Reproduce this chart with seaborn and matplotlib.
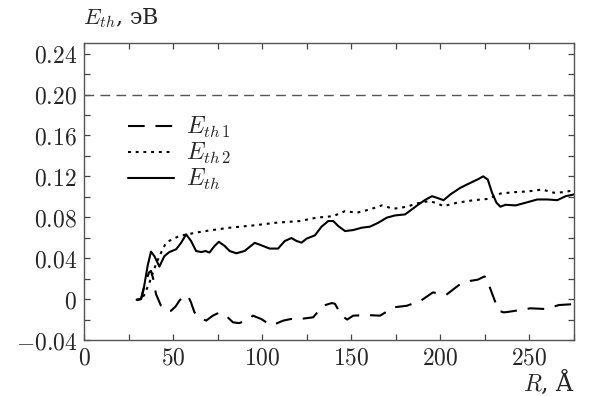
import numpy as np
import pandas as pd
import matplotlib
matplotlib.use("Agg")
import matplotlib.pyplot as plt
import seaborn as sns
from matplotlib.ticker import MultipleLocator, FuncFormatter

# ---- data ----
x_eth = [29.5, 32, 33.8, 35.7, 37.6, 39.5, 42.3, 45.1, 47.9, 51.7, 54.5, 57.3, 60.1, 62.9,
         65.8, 68.2, 70.4, 73.3, 75.7, 78.9, 81.7, 85.5, 90.1, 95.8, 99.5, 104.2, 108.9,
         112.7, 116.4, 119.3, 122.1, 124.9, 129.6, 133.3, 137.1, 139.9, 142.7, 146.5,
         151.1, 155.9, 160.5, 165.2, 169.9, 174.6, 180.2, 184, 187.7, 191.5, 195.3, 198.1,
         201.8, 205.6, 211.2, 216.8, 221.5, 224, 226.6, 229, 231.5, 233.7, 236.5, 242.2,
         247.8, 254.4, 260, 265.6, 270.3, 275]
y_eth = [-0.0007, 0.0, 0.013, 0.0325, 0.0464, 0.042, 0.0318, 0.042, 0.046, 0.0487, 0.055,
         0.0633, 0.0568, 0.047, 0.046, 0.047, 0.0455, 0.052, 0.056, 0.052, 0.047, 0.0448,
         0.047, 0.055, 0.0526, 0.0494, 0.0494, 0.0568, 0.0597, 0.0568, 0.0552, 0.0591,
         0.0623, 0.0708, 0.0763, 0.0763, 0.0714, 0.0665, 0.0675, 0.0698, 0.0708, 0.0747,
         0.0796, 0.0818, 0.0828, 0.0877, 0.0925, 0.097, 0.1006, 0.099, 0.0967, 0.1023,
         0.1088, 0.1136, 0.1175, 0.120, 0.1169, 0.104, 0.0942, 0.0903, 0.0922, 0.0916,
         0.0942, 0.0974, 0.0974, 0.0967, 0.1006, 0.1023]

x_eth2 = [29.5, 32, 33.8, 36.7, 39.5, 42.3, 46, 49, 53.5, 62.9, 70, 81.7, 95, 108, 121.1,
          130.5, 139.9, 146.5, 153, 160.5, 167.1, 173.7, 181.2, 186.8, 193.4, 197.2, 201.8,
          209.3, 218.7, 227.1, 233.7, 241.2, 248.7, 257.2, 263.7, 269.3, 275]
y_eth2 = [-0.0007, 0.0, 0.004, 0.016, 0.030, 0.042, 0.055, 0.058, 0.0617, 0.065, 0.067,
          0.0698, 0.072, 0.0747, 0.0763, 0.0796, 0.0811, 0.086, 0.0844, 0.0877, 0.0916,
          0.0883, 0.0903, 0.0935, 0.0958, 0.0942, 0.0909, 0.0942, 0.0967, 0.098, 0.1032,
          0.1045, 0.1052, 0.1071, 0.104, 0.1045, 0.1065]

x_eth1 = [29.5, 32, 34.4, 36.5, 37.6, 38.8, 40.4, 43.2, 46, 48.9, 51.5, 53.5, 56, 58.2, 60,
          62, 65.8, 68.6, 72.3, 75.5, 78.9, 83.6, 87, 91.1, 94.8, 99.5, 103, 106.1, 111.7,
          116, 121.1, 128.6, 134.2, 139, 140.8, 144.6, 147.7, 151.1, 158.7, 166.2, 173.7,
          181.2, 189, 195.8, 199.5, 203.3, 210.3, 216.8, 221, 224.7, 226, 228.1, 230.9,
          232.8, 235.6, 238, 242.2, 250.6, 259, 266.6, 275]
y_eth1 = [-0.0007, 0.0, 0.016, 0.026, 0.0276, 0.020, 0.0049, -0.0065, -0.0115, -0.0114,
          -0.007, -0.0016, 0.003, 0.0035, -0.003, -0.013, -0.0195, -0.021, -0.0162, -0.0135,
          -0.015, -0.0227, -0.0235, -0.021, -0.0162, -0.0195, -0.0235, -0.0253, -0.0211,
          -0.0195, -0.0195, -0.0178, -0.0065, -0.0039, -0.0045, -0.0162, -0.020, -0.0162,
          -0.0156, -0.0162, -0.0081, -0.0065, -0.0016, 0.0065, 0.0055, 0.0042, 0.0136,
          0.0178, 0.019, 0.0221, 0.021, 0.0097, -0.0032, -0.0114, -0.013, -0.0125, -0.0114,
          -0.009, -0.0097, -0.0058, -0.0049]

threshold = 0.20
labels = [r"$E_{th\,1}$", r"$E_{th\,2}$", r"$E_{th}$"]

sns.set_style("ticks")
plt.rcParams["mathtext.fontset"] = "cm"
plt.rcParams["font.family"] = ["DejaVu Serif"]

fig = plt.figure(figsize=(5.92, 3.96), dpi=100)
ax = fig.add_axes([0.1419, 0.1414, 0.9696 - 0.1419, 0.892 - 0.1414])

df1 = pd.DataFrame({"R": x_eth1, "E": y_eth1})
df2 = pd.DataFrame({"R": x_eth2, "E": y_eth2})
df3 = pd.DataFrame({"R": x_eth, "E": y_eth})

ax.axhline(threshold, color="#555555", lw=1.0, dashes=(7.0, 4.5))
sns.lineplot(data=df1, x="R", y="E", ax=ax, color="black", lw=1.5,
             dashes=False, linestyle=(0, (8.0, 5.2)), label=labels[0])
sns.lineplot(data=df2, x="R", y="E", ax=ax, color="black", lw=1.5,
             dashes=False, linestyle=(0, (1.4, 2.3)), label=labels[1])
sns.lineplot(data=df3, x="R", y="E", ax=ax, color="black", lw=1.5,
             dashes=False, linestyle="-", label=labels[2])

ax.set_xlim(0, 275)
ax.set_ylim(-0.04, 0.2506)
ax.xaxis.set_major_locator(MultipleLocator(50))
ax.xaxis.set_minor_locator(MultipleLocator(25))
ax.yaxis.set_major_locator(MultipleLocator(0.04))
ax.yaxis.set_minor_locator(MultipleLocator(0.02))

def yfmt(v, pos):
    if abs(v) < 1e-9:
        return r"$0$"
    return r"$%.2f$" % v
ax.yaxis.set_major_formatter(FuncFormatter(yfmt))
ax.xaxis.set_major_formatter(FuncFormatter(lambda v, p: r"$%d$" % round(v)))

ax.tick_params(which="both", direction="in", top=True, right=True,
               length=4.5, width=0.9, color="#444444", labelsize=17, pad=5)
for s in ax.spines.values():
    s.set_color("#555555")
    s.set_linewidth(1.0)

ax.set_xlabel("")
ax.set_ylabel("")
fig.text(0.140, 0.955, r"$E_{th}$, эВ", fontsize=16, ha="left", va="center")
fig.text(0.972, 0.035, r"$R$, Å", fontsize=17, ha="right", va="center")

leg = ax.legend(loc="upper left", bbox_to_anchor=(0.09, 0.757), frameon=False,
                fontsize=17, handlelength=1.95, handletextpad=0.5,
                labelspacing=0.05, borderpad=0, borderaxespad=0)

fig.savefig("out.png", dpi=100)
